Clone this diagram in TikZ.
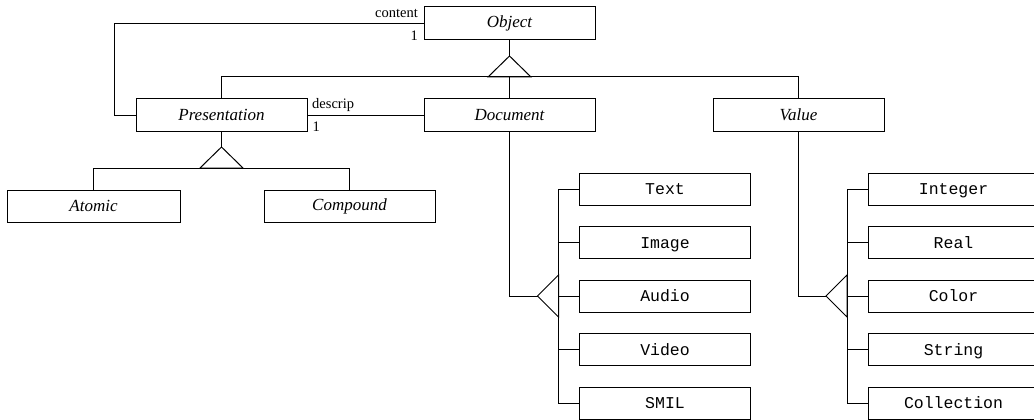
\documentclass[tikz,border=0pt]{standalone}
\usepackage{fontspec}
\setmainfont{Liberation Serif}
\setmonofont{Liberation Mono}
\usetikzlibrary{positioning}

\begin{document}
\begin{tikzpicture}[
    x=1pt, y=-1pt,
    node distance=59pt,
    box/.style={draw=black, line width=1pt, minimum width=171pt,
      minimum height=32pt, inner sep=0pt, outer sep=0pt,
      font=\fontsize{17}{20}\selectfont\itshape},
    mbox/.style={box, text height=12pt, text depth=1pt,
      font=\fontsize{16.5}{20}\selectfont\ttfamily},
    lbl/.style={inner sep=1.5pt, font=\fontsize{14.5}{16}\selectfont},
    link/.style={draw=black, line width=1pt}
  ]
    \useasboundingbox (0,0) rectangle (1034,420);

    \node[box, minimum height=33pt] (object) at (509.5,23.5) {Object};
    \node[box, below=of object] (document) {Document};
    \node[box, left=117pt of document] (presentation) {Presentation};
    \node[box, right=118pt of document] (value) {Value};
    \node[box, below=of presentation, xshift=-128pt, minimum width=173pt] (atomic) {Atomic};
    \node[box, below=of presentation, xshift=128pt] (compound) {Compound};

    \node[mbox, below=42pt of document, xshift=155.5pt] (text) {Text};
    \node[mbox, below=21.5pt of text] (image) {Image};
    \node[mbox, below=21.5pt of image] (audio) {Audio};
    \node[mbox, below=21.5pt of audio] (video) {Video};
    \node[mbox, below=21.5pt of video] (smil) {SMIL};

    \node[mbox, below=42pt of value, xshift=155pt] (integer) {Integer};
    \node[mbox, below=21.5pt of integer] (real) {Real};
    \node[mbox, below=21.5pt of real] (color) {Color};
    \node[mbox, below=21.5pt of color] (string) {String};
    \node[mbox, below=21.5pt of string] (collection) {Collection};

    % associations
    \draw[link] (object.west) -- ++(-310,0) |- (presentation.west);
    \node[lbl, above left=4pt and 4.5pt of object.west] (contentlbl) {content};
    \node[lbl, below left=6pt and 4.5pt of object.west] (contentmul) {1};
    \draw[link] (presentation.east) -- (document.west);
    \node[lbl, above right=1.5pt and 3.5pt of presentation.east] (descriplbl) {descrip};
    \node[lbl, below right=5pt and 4pt of presentation.east] (descripmul) {1};

    % Object generalisation
    \coordinate[below=16pt of object.south] (objtip);
    \draw[link] (object.south) -- (objtip);
    \draw[link] (objtip) -- ++(-21.5,21) -- ++(43,0) -- cycle;
    \draw[link] (presentation.north) -- ++(0,-22) -| (value.north);
    \draw[link] (document.north) -- ++(0,-22);

    % Presentation generalisation
    \coordinate[below=16pt of presentation.south] (prestip);
    \draw[link] (presentation.south) -- (prestip);
    \draw[link] (prestip) -- ++(-21.5,21) -- ++(43,0) -- cycle;
    \draw[link] (atomic.north) -- ++(0,-22) -| (compound.north);

    % Document generalisation
    \coordinate[left=42pt of audio.west] (doctip);
    \draw[link] (document.south) |- (doctip);
    \draw[link] (doctip) -- ++(21,-21) -- ++(0,42) -- cycle;
    \draw[link] (text.west) -- ++(-21,0) |- (smil.west);
    \draw[link] (image.west) -- ++(-21,0);
    \draw[link] (audio.west) -- ++(-21,0);
    \draw[link] (video.west) -- ++(-21,0);

    % Value generalisation
    \coordinate[left=42pt of color.west] (valtip);
    \draw[link] (value.south) |- (valtip);
    \draw[link] (valtip) -- ++(21,-21) -- ++(0,42) -- cycle;
    \draw[link] (integer.west) -- ++(-21,0) |- (collection.west);
    \draw[link] (real.west) -- ++(-21,0);
    \draw[link] (color.west) -- ++(-21,0);
    \draw[link] (string.west) -- ++(-21,0);
  \end{tikzpicture}
\end{document}
